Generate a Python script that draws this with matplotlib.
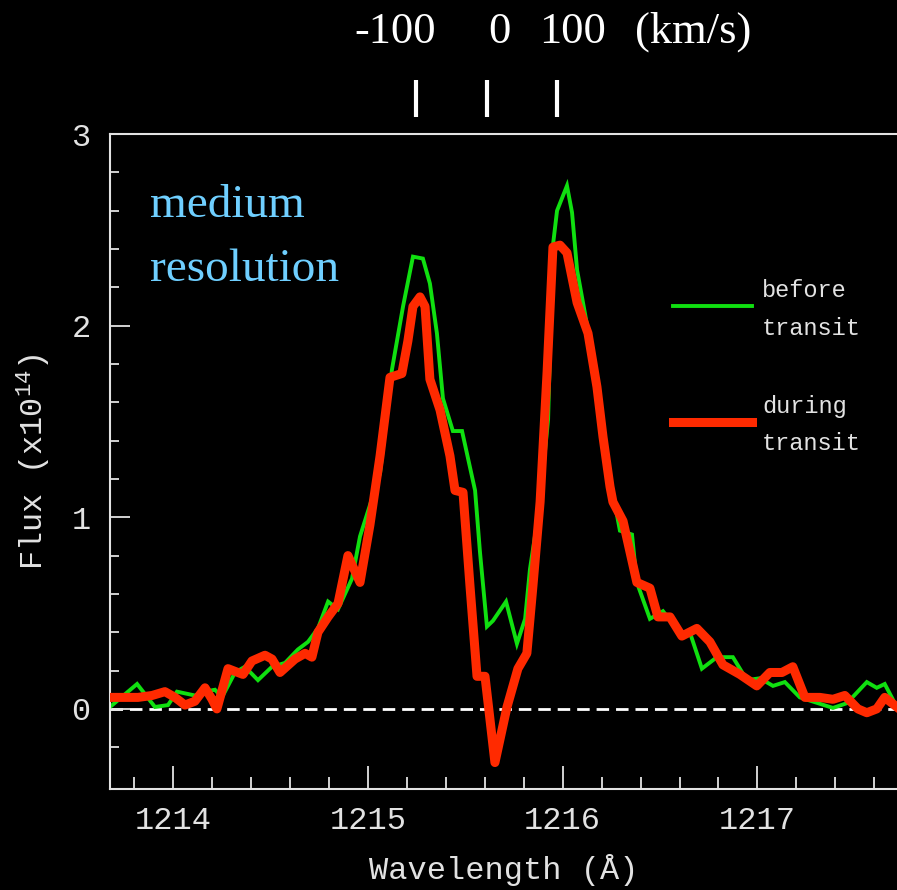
import numpy as np
import matplotlib.pyplot as plt
from matplotlib.transforms import blended_transform_factory

# --- spectrum (wavelength in Angstrom, flux in 1e-14) ---
wl_before = [1213.675, 1213.814, 1213.906, 1213.973, 1214.019, 1214.111, 1214.163, 1214.214,
             1214.250, 1214.317, 1214.368, 1214.435, 1214.507, 1214.574, 1214.640, 1214.692,
             1214.743, 1214.795, 1214.846, 1214.918, 1214.959, 1215.062, 1215.123, 1215.180,
             1215.231, 1215.282, 1215.318, 1215.354, 1215.385, 1215.436, 1215.483, 1215.524,
             1215.550, 1215.575, 1215.611, 1215.642, 1215.709, 1215.765, 1215.807, 1215.832,
             1215.884, 1215.925, 1215.950, 1215.971, 1216.022, 1216.048, 1216.074, 1216.115,
             1216.140, 1216.176, 1216.207, 1216.253, 1216.294, 1216.356, 1216.381, 1216.448,
             1216.515, 1216.602, 1216.653, 1216.715, 1216.792, 1216.874, 1216.946, 1217.013,
             1217.080, 1217.141, 1217.218, 1217.388, 1217.460, 1217.562, 1217.613, 1217.654,
             1217.716]
flux_before = [0.01, 0.13, 0.01, 0.02, 0.09, 0.07, 0.09, 0.10,
               0.06, 0.19, 0.22, 0.15, 0.22, 0.24, 0.31, 0.35,
               0.42, 0.56, 0.52, 0.68, 0.90, 1.23, 1.77, 2.10,
               2.36, 2.35, 2.22, 1.96, 1.62, 1.45, 1.45, 1.26,
               1.14, 0.82, 0.43, 0.46, 0.56, 0.34, 0.47, 0.73,
               1.08, 1.51, 2.42, 2.60, 2.73, 2.59, 2.29, 2.06,
               1.92, 1.68, 1.42, 1.15, 0.93, 0.91, 0.66, 0.47,
               0.51, 0.40, 0.40, 0.21, 0.27, 0.27, 0.15, 0.16,
               0.12, 0.14, 0.06, 0.005, 0.03, 0.14, 0.11, 0.13,
               0.01]

wl_during = [1213.675, 1213.752, 1213.819, 1213.891, 1213.957, 1214.009, 1214.060, 1214.111,
             1214.163, 1214.199, 1214.224, 1214.281, 1214.332, 1214.358, 1214.404, 1214.471,
             1214.507, 1214.548, 1214.625, 1214.677, 1214.712, 1214.743, 1214.795, 1214.846,
             1214.897, 1214.959, 1215.010, 1215.062, 1215.113, 1215.174, 1215.205, 1215.231,
             1215.267, 1215.293, 1215.318, 1215.370, 1215.421, 1215.447, 1215.488, 1215.524,
             1215.560, 1215.601, 1215.652, 1215.714, 1215.770, 1215.816, 1215.847, 1215.884,
             1215.920, 1215.950, 1215.986, 1216.022, 1216.074, 1216.130, 1216.176, 1216.207,
             1216.243, 1216.258, 1216.310, 1216.381, 1216.448, 1216.489, 1216.551, 1216.612,
             1216.689, 1216.756, 1216.823, 1216.910, 1216.997, 1217.064, 1217.126, 1217.182,
             1217.244, 1217.321, 1217.388, 1217.449, 1217.516, 1217.562, 1217.613, 1217.654,
             1217.716]
flux_during = [0.06, 0.06, 0.06, 0.07, 0.09, 0.06, 0.02, 0.04,
               0.11, 0.05, 0.00, 0.21, 0.19, 0.18, 0.25, 0.28,
               0.26, 0.19, 0.26, 0.29, 0.27, 0.40, 0.48, 0.55,
               0.80, 0.66, 0.96, 1.32, 1.73, 1.75, 1.92, 2.10,
               2.15, 2.10, 1.72, 1.56, 1.32, 1.14, 1.13, 0.64,
               0.17, 0.17, -0.28, 0.01, 0.21, 0.29, 0.64, 1.08,
               1.76, 2.41, 2.42, 2.38, 2.12, 1.96, 1.68, 1.42,
               1.16, 1.08, 0.98, 0.66, 0.63, 0.48, 0.48, 0.38,
               0.42, 0.35, 0.23, 0.18, 0.12, 0.19, 0.19, 0.22,
               0.06, 0.06, 0.05, 0.07, 0.00, -0.02, 0.00, 0.06,
               0.01]

# velocity markers (-100, 0, +100 km/s) above the frame
vel_wl = [1215.246, 1215.611, 1215.971]
vel_labels = ['-100', '0', '100', '(km/s)']
vel_label_x = [395.5, 499, 573, 693]   # pixel centres of the labels

green = '#10e010'
red = '#ff2a00'
fg = '#e2e2e2'
mono = ['Liberation Mono', 'DejaVu Sans Mono']
serif = ['Liberation Serif', 'DejaVu Serif']

W, H = 897, 890
fig = plt.figure(figsize=(W / 100, H / 100), dpi=100, facecolor='black')
ax = fig.add_axes([110 / W, (H - 789) / H, 787 / W, 655 / H], facecolor='black')

ax.axhline(0, color='white', lw=2, linestyle=(0, (4.5, 2.5)), zorder=1)
ax.plot(wl_before, flux_before, color=green, lw=2.8, zorder=2, solid_joinstyle='miter')
ax.plot(wl_during, flux_during, color=red, lw=6.5, zorder=3, solid_joinstyle='round')

ax.set_xlim(1213.675, 1217.717)
ax.set_ylim(-0.418, 3.0)

ax.set_xticks([1214, 1215, 1216, 1217])
ax.set_xticks(np.arange(1213.8, 1217.8, 0.2), minor=True)
ax.set_yticks([0, 1, 2, 3])
ax.set_yticks(np.arange(-0.2, 3.0, 0.2), minor=True)

for s in ['left', 'bottom', 'top']:
    ax.spines[s].set_color(fg)
    ax.spines[s].set_linewidth(1.5)
ax.spines['right'].set_visible(False)

ax.tick_params(axis='x', which='major', direction='in', length=16.5, width=1.3,
               color=fg, labelcolor=fg, labelsize=23, pad=12)
ax.tick_params(axis='x', which='minor', direction='in', length=8.5, width=1.3, color=fg)
ax.tick_params(axis='y', which='major', direction='in', length=14.5, width=1.3,
               color=fg, labelcolor=fg, labelsize=23, pad=14)
ax.tick_params(axis='y', which='minor', direction='in', length=6.5, width=1.3, color=fg)
for lab in ax.get_xticklabels() + ax.get_yticklabels():
    lab.set_family(mono)

ax.set_xlabel('Wavelength (Å)', color=fg, fontsize=23, family=mono, labelpad=13)
ax.set_ylabel('Flux (x10$\\mathregular{^{14}}$)', color=fg, fontsize=23, family=mono, labelpad=13)

# legend drawn by hand, as in the original
ax.plot([0.7154, 0.8158], [0.7374, 0.7374], transform=ax.transAxes, color=green, lw=2.8)
ax.plot([0.7154, 0.8158], [0.5603, 0.5603], transform=ax.transAxes, color=red, lw=6.5)
for txt, yy in [('before', 0.7511), ('transit', 0.6931), ('during', 0.574), ('transit', 0.5176)]:
    ax.text(0.8285, yy, txt, transform=ax.transAxes, color=fg, fontsize=17,
            family=mono, va='baseline', ha='left')

ax.text(150 / W, (H - 217) / H, 'medium', transform=fig.transFigure, color='#6fcfff',
        fontsize=34, family=serif, va='baseline', ha='left')
ax.text(150 / W, (H - 281) / H, 'resolution', transform=fig.transFigure, color='#6fcfff',
        fontsize=34, family=serif, va='baseline', ha='left')

trans = blended_transform_factory(ax.transData, ax.transAxes)
for w in vel_wl:
    ax.plot([w, w], [1.026, 1.082], transform=trans, color='white', lw=3, clip_on=False,
            solid_capstyle='butt')
for lab, px in zip(vel_labels, vel_label_x):
    fig.text(px / W, (H - 43) / H, lab, color='white', fontsize=32, family=serif,
             ha='center', va='baseline')

fig.savefig('out.png', dpi=100, facecolor='black')
